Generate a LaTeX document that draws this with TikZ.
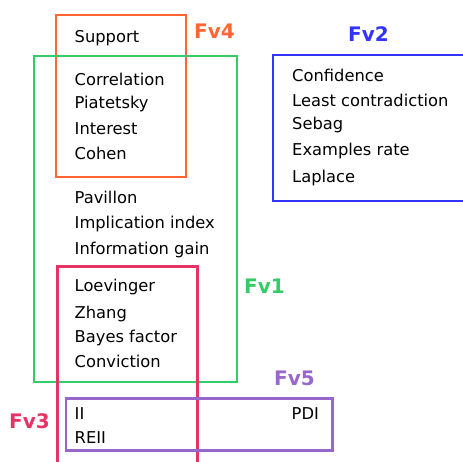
\documentclass[tikz,border=0pt]{standalone}
\usepackage{fontspec}
\setmainfont{DejaVu Sans}
\usetikzlibrary{positioning}

\definecolor{fvorange}{RGB}{255,102,51}
\definecolor{fvgreen}{RGB}{51,204,102}
\definecolor{fvblue}{RGB}{51,51,255}
\definecolor{fvred}{RGB}{230,51,102}
\definecolor{fvpurple}{RGB}{153,102,204}

\tikzset{
  measure/.style={anchor=base west, inner sep=0pt, font=\fontsize{16.3}{19}\selectfont},
  fvlabel/.style={anchor=base west, inner sep=0pt, font=\fontsize{20}{23}\selectfont\bfseries},
  fvbox/.style={line width=2.2pt}
}

\begin{document}
\begin{tikzpicture}[x=1pt, y=-1pt]
\clip (0,0) rectangle (463,462);

% groups
\draw[fvbox, fvorange] (56,15) rectangle (186,177);
\draw[fvbox, fvgreen] (34,56) rectangle (237,382);
\draw[fvbox, fvblue] (273,55) rectangle (475,201);
\draw[fvbox, fvred] (57.5,266.5) rectangle (197.5,475);
\draw[fvbox, fvpurple] (66,398.5) rectangle (332.5,450.5);

% group names
\node[fvlabel, text=fvorange] (fv4) at (194,38.3) {Fv4};
\node[fvlabel, text=fvblue] (fv2) at (348,41.7) {Fv2};
\node[fvlabel, text=fvgreen] (fv1) at (244,294) {Fv1};
\node[fvlabel, text=fvpurple] (fv5) at (274,385) {Fv5};
\node[fvlabel, text=fvred] (fv3) at (9,428.3) {Fv3};

% measures
\node[measure] (support) at (74.5,42.7) {Support};
\node[measure] (correlation) at (74.5,85.3) {Correlation};
\node[measure] (piatetsky) at (74.5,108.3) {Piatetsky};
\node[measure] (interest) at (74.5,134.3) {Interest};
\node[measure] (cohen) at (74.5,159.3) {Cohen};
\node[measure] (pavillon) at (74.5,204) {Pavillon};
\node[measure] (implication) at (74.5,229) {Implication index};
\node[measure] (infogain) at (74.5,254.3) {Information gain};
\node[measure] (loevinger) at (74.5,291.7) {Loevinger};
\node[measure] (zhang) at (74.5,318.3) {Zhang};
\node[measure] (bayes) at (74.5,342) {Bayes factor};
\node[measure] (conviction) at (74.5,367.3) {Conviction};
\node[measure] (ii) at (74.5,419) {II};
\node[measure] (reii) at (74.5,443.3) {REII};
\node[measure] (pdi) at (291.5,419) {PDI};

\node[measure] (confidence) at (292,82) {Confidence};
\node[measure] (leastcontra) at (292,106.7) {Least contradiction};
\node[measure] (sebag) at (292,130) {Sebag};
\node[measure] (exrate) at (292,155.3) {Examples rate};
\node[measure] (laplace) at (292,182.3) {Laplace};

\end{tikzpicture}
\end{document}
